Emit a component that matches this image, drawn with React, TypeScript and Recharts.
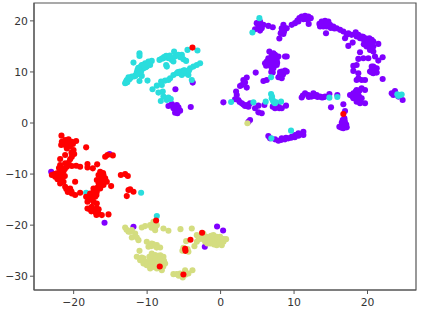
import React from "react";
import { ScatterChart, Scatter, XAxis, YAxis, ReferenceArea } from "recharts";

type P = [number, number];

const purplePoints: P[] = [
  [4.92,19.55],[5.37,19.87],[5.15,18.89],[5.6,18.56],[5.37,18.1],[4.69,18.37],[5.83,19.22],[6.5,19.02],[7.1,18.76],[5.37,19.2],
  [8.55,19.22],[8.32,18.56],[8.77,18.56],[9.0,18.56],[8.32,17.91],[8.64,17.91],[8.18,17.58],[8.55,17.45],[8.0,16.54],
  [9.68,19.22],[10.13,19.55],[10.45,20.07],[10.72,20.53],[11.04,20.85],[11.5,20.98],[11.95,20.85],[12.27,20.53],[11.27,20.33],[10.59,19.87],[11.99,19.41],[11.72,20.33],
  [13.45,19.41],[13.76,19.87],[14.22,20.0],[14.67,19.87],[14.9,19.22],[13.99,18.89],[14.44,18.89],[13.54,18.89],[15.35,18.89],[15.8,18.56],[16.26,18.24],[16.71,17.91],[14.35,17.58],[17.39,17.58],[17.84,17.26],[18.39,17.78],[18.75,17.26],[19.2,16.93],[19.66,16.6],[19.88,15.95],[20.34,15.62],[20.79,15.95],[20.25,16.6],[20.79,14.97],[21.47,15.49],[16.94,16.6],[17.98,15.75],[17.39,15.1],[19.88,14.97],[20.34,14.32],[18.98,13.86],[20.79,13.99],[21.02,13.01],[22.06,12.88],[21.47,12.22],[20.11,12.68],[18.75,12.55],[18.52,11.37],[18.07,11.18],[18.07,10.2],[18.75,9.74],[20.79,11.05],[21.25,10.72],[20.57,10.39],[21.25,9.87],[18.75,8.76],[18.52,8.43],[19.66,8.43],[22.06,8.63],[20.34,10.07],[21.02,10.07],[19.2,8.43],[19.43,16.4],[20.11,15.62],[20.57,16.28],[18.52,16.93],[18.98,16.6],[17.17,17.26],[19.43,12.68],[21.02,10.72],[20.79,9.74],[20.57,11.05],
  [14.1,19.3],[14.6,19.3],[15,18.6],[15.5,18.5],[19.4,16.9],[19.9,16.5],[20.2,16],[20.5,15.2],[20.3,15],[19.5,15.4],[19.9,15.4],[20.8,10.5],[20.6,9.9],
  [6.64,13.99],[6.96,13.34],[7.41,13.34],[7.87,13.01],[8.77,13.01],[9.0,13.01],[6.5,12.68],[7.19,12.68],[7.64,12.36],[6.05,11.7],[6.73,11.7],[7.19,11.37],[7.64,11.37],[6.96,10.72],[7.19,10.72],[4.78,9.87],[8.32,10.07],[8.77,10.26],[9.0,10.07],[8.09,9.41],[8.32,8.76],[7.87,8.96],[5.83,8.24],[6.28,8.43],[3.56,8.89],[3.1,8.43],[2.88,7.45],[3.56,6.93],[2.65,7.26],[3.33,7.91],[6.28,12.03],[6.96,12.36],[7.41,12.03],[6.5,11.37],[7.19,13.66],[7.64,13.01],[6.96,11.37],
  [7,12.9],[7.4,11.7],[6.6,12.3],[6.2,11.2],[7.7,11.8],[6.9,10],[7.1,9.9],[8.1,10],[8.5,9.5],[3.2,8],
  [0.38,4.05],[2.11,6.15],[2.2,5.49],[1.97,4.64],[2.42,4.51],[2.88,3.86],[3.33,3.34],[3.79,3.2],[4.01,3.86],[5.15,3.4],[4.69,2.88],[5.96,3.53],[5.15,2.09],[5.6,1.9],[7.19,3.34],[7.87,3.2],[8.32,2.88],[8.91,3.4],[7.41,2.88],[4.01,0.59],[3.79,0.26],
  [2.6,4.1],[3.1,3.6],[3.6,3.5],[7.6,3.1],[7.1,3.2],[8,2.9],[7.7,3.6],
  [11.04,5.0],[11.5,5.82],[11.95,5.49],[12.4,5.17],[12.63,5.82],[13.08,5.49],[13.54,5.17],[13.99,5.03],[14.22,5.17],[14.81,5.69],[15.89,5.49],[15.03,3.07],[16.71,3.66],[17.62,5.49],[18.07,5.82],[18.52,6.47],[19.2,6.8],[19.66,6.47],[18.75,5.49],[18.07,4.84],[18.75,4.51],[19.2,4.84],[19.66,3.86],[18.98,3.86],[18.52,4.18],[18.39,6.15],[18.89,6.34],
  [18.3,5.2],[18.5,4.9],[18.9,5.1],[19,4.3],[18.7,6.0],[17.9,5.3],[11.2,5.4],[12,5.1],[12.8,5.3],[13.2,5.1],[13.8,5.0],
  [16.94,2.36],[16.62,0.59],[16.48,-0.39],[16.94,-0.06],[16.17,-0.72],[16.71,-1.04],[17.17,-0.85],[16.85,0.92],[16.4,-0.9],[16.7,-0.5],[17.1,-0.3],[16.5,0.1],[16.9,0.4],
  [6.5,-2.55],[6.73,-3.0],[7.41,-3.2],[7.87,-3.46],[8.32,-3.0],[9.23,-3.0],[9.68,-2.68],[10.13,-2.35],[10.59,-2.02],[11.27,-1.7],[11.27,-2.35],[8.77,-3.2],[8.3,-3.3],[8.9,-2.9],[9.6,-2.9],[10.1,-2.8],[10.6,-2.5],
  [23.29,5.82],[23.74,6.28],[23.51,5.49],[24.19,5.17],[24.78,4.51],
  [-3.79,7.91],[-6.15,6.6],[-4.06,3.14],[-7.1,3.34],[-6.64,3.73],[-5.96,3.53],[-6.42,2.88],[-5.96,2.55],[-5.51,2.42],[-6.19,2.03],[-5.87,1.9],[-5.74,3.07],
  [-15.12,-6.08],[-23.06,-9.54],[-15.8,-19.54],[-0.48,-20.26],[0.34,-21.04],[-2.15,-24.24],[-11.86,-20.32],
];

const cyanPoints: P[] = [
  [6.87,8.96],[5.28,20.53],[4.33,17.71],[9.59,-1.5],[6.91,-3.0],[14.81,4.97],[15.89,5.1],[24.06,5.62],[24.42,5.49],[24.65,5.56],[24.19,5.3],[6.87,5.69],[6.96,4.84],[7.19,4.18],[7.41,3.86],[8.23,4.18],[6.14,4.18],[4.47,4.05],[1.43,4.12],[7,5.2],[7.1,4.5],[7.3,4.0],[7.5,4.1],
  [-12.99,7.78],[-12.77,8.43],[-12.54,8.96],[-12.09,9.09],[-11.63,9.22],[-11.04,8.24],[-11.86,11.83],[-11.04,13.66],[-11.04,13.14],[-11.32,10.39],[-10.95,10.72],[-10.73,11.37],[-10.27,11.7],[-9.82,12.03],[-9.37,12.16],[-10.5,10.72],[-10.05,11.05],[-9.59,11.37],[-11.18,9.61],[-10.73,9.22],[-9.95,8.3],[-9.27,6.6],[-8.68,7.32],[-8.1,8.11],[-7.55,8.3],[-7.1,8.43],[-8.0,7.45],[-6.87,8.76],[-6.42,9.41],[-5.96,9.74],[-5.51,10.07],[-5.06,10.26],[-4.6,10.07],[-4.15,10.72],[-3.7,11.05],[-3.24,11.37],[-2.79,11.7],[-3.92,8.43],[-5.28,9.41],[-4.38,9.41],[-8.46,5.95],[-7.87,6.15],[-7.78,5.17],[-8.14,4.32],[-7.32,4.51],[-6.78,4.71],[-8.32,12.36],[-7.78,12.68],[-7.41,13.14],[-7.1,12.68],[-6.64,12.36],[-6.33,13.99],[-6.19,13.01],[-5.74,13.34],[-5.28,13.34],[-5.06,12.48],[-4.69,12.16],[-7.41,11.37],[-7.32,11.05],[-4.51,14.32],[-3.15,14.19],[-6.42,12.03],[-12.86,8.1],[-12.4,8.56],[-11.41,9.87],[-10.41,11.18],[-4.83,9.74],
  [-12.7,8.0],[-12.9,7.9],[-12.3,8.8],[-11.8,9.1],[-10.8,10.2],[-11,10],[-10.9,11],[-10.2,10.9],[-10.6,11.3],[-9.7,11.7],[-9.9,11.4],[-5.5,9.7],[-5,9.8],[-4.6,9.7],[-4.9,10.3],[-4.3,10.3],[-5.8,10],[-7.7,12.9],[-6.9,12.8],[-6.9,13.2],[-5.5,12.9],[-5.3,12.9],[-8,12.6],[-11.1,9.9],[-11.5,9.4],[-11.2,10.8],[-7.1,5.0],
  [-10.82,-13.66],[-8.68,-18.23],[-18.3,-13.66],
];

const khakiPoints: P[] = [
  [3.65,-0.06],
  [-12.99,-20.45],[-12.54,-21.3],[-12.09,-20.98],[-11.63,-21.63],[-11.18,-22.94],[-12.09,-22.41],[-11.41,-22.41],[-10.73,-20.45],[-10.27,-20.19],[-9.59,-20.0],[-9.14,-19.34],[-8.68,-20.0],[-8.91,-20.98],[-7.78,-20.65],[-7.1,-21.11],[-10.05,-23.26],[-9.37,-23.59],[-8.68,-23.92],[-8.23,-24.37],[-9.82,-24.24],[-11.04,-25.03],[-11.41,-26.2],[-10.95,-26.86],[-10.5,-27.51],[-9.82,-27.84],[-9.14,-28.17],[-9.37,-25.55],[-8.91,-25.88],[-7.78,-26.2],[-7.55,-27.51],[-8.0,-28.82],[-8.68,-28.49],[-9.59,-28.49],[-10.27,-27.18],[-8.23,-27.18],[-5.46,-20.78],[-3.92,-20.65],[-4.69,-23.13],[-5.06,-24.44],[-4.38,-25.22],[-3.56,-24.11],[-3.24,-23.26],[-2.79,-22.28],[-2.34,-21.63],[-1.66,-22.61],[-0.98,-21.96],[-0.52,-22.28],[-0.07,-22.94],[0.39,-23.26],[0.75,-22.74],[-0.98,-23.26],[-0.52,-23.92],[0.16,-23.92],[-1.43,-23.59],[-2.1,-23.26],[-3.24,-21.96],[-6.42,-29.6],[-5.96,-29.6],[-5.51,-29.47],[-5.15,-30.26],[-4.83,-28.82],[-4.38,-29.47],[-3.83,-28.82],[-0.75,-22.61],[-0.07,-22.28],[-2.56,-22.61],[-10.05,-27.84],[-8.68,-27.51],[-10.73,-26.33],[-9.37,-27.18],
  [-10.5,-26.5],[-10.9,-26.5],[-10.3,-27.5],[-10,-27.3],[-9.6,-27],[-9.4,-27.9],[-9.1,-27.4],[-8.9,-27.1],[-8.4,-26.6],[-8.5,-26],[-8.2,-25.9],[-8,-26.8],[-8.3,-27.7],[-8.4,-28.4],[-9.1,-26.3],[-9.7,-26.2],[-9.6,-28],[-7.7,-27],[-7.8,-28.1],
  [-1.5,-23],[-1.1,-22.6],[-0.7,-23.3],[-0.4,-22.7],[-0.2,-23.4],[0.2,-22.7],[-1.3,-22.1],[-1.9,-22.3],[-2.3,-22.8],[-1.8,-23.6],[-0.9,-23.8],[0.4,-22.7],[-3,-22.8],
  [-9.2,-23.7],[-9,-24],[-9.4,-24.1],[-8.7,-24.4],[-4.9,-25],[-4.5,-24.7],[-5.2,-25],[-9.2,-20.1],[-9.4,-20.5],[-8.9,-20.4],[-12.3,-21.3],[-12.8,-20.9],[-5.7,-29.9],[-5.3,-29.9],[-4.8,-29.7],
];

const redPoints: P[] = [
  [16.71,1.77],[-3.83,14.77],
  [-21.66,-2.48],[-21.61,-3.66],[-21.16,-3.33],[-20.7,-3.2],[-20.25,-3.66],[-19.66,-3.53],[-21.7,-4.31],[-21.16,-4.31],[-20.7,-4.31],[-20.93,-4.97],[-18.3,-4.77],[-20.02,-5.29],[-19.93,-6.08],[-20.25,-6.6],[-21.16,-6.27],[-21.84,-7.06],[-20.48,-7.12],[-15.71,-6.6],[-15.4,-6.27],[-14.67,-6.34],
  [-21.84,-8.23],[-20.7,-7.77],[-21.16,-7.9],[-21.61,-8.88],[-20.93,-8.56],[-20.25,-8.43],[-19.66,-8.36],[-19.12,-8.56],[-18.12,-8.04],[-18.12,-8.69],[-17.39,-8.88],[-16.8,-8.1],[-22.29,-9.87],[-21.84,-9.54],[-22.52,-10.52],[-22.97,-10.19],[-22.06,-10.52],[-21.61,-10.85],[-21.84,-11.83],[-21.38,-11.5],[-21.16,-12.48],[-20.7,-13.13],[-20.25,-13.79],[-19.8,-14.11],[-19.12,-13.66],[-20.48,-12.81],[-19.8,-11.5],[-16.39,-9.54],[-16.62,-10.19],[-15.94,-10.19],[-16.85,-11.17],[-16.17,-11.17],[-15.49,-11.5],[-14.9,-12.35],[-15.94,-12.15],[-16.39,-12.81],[-17.3,-12.81],[-16.85,-13.46],[-17.76,-13.79],[-18.3,-14.44],[-18.12,-15.42],[-17.3,-15.42],[-16.85,-15.75],[-18.12,-16.73],[-17.3,-17.05],[-16.62,-17.71],[-16.17,-18.03],[-15.26,-17.9],[-16.85,-16.73],[-17.53,-16.4],[-13.58,-10.19],[-12.99,-10.0],[-12.63,-10.39],[-12.54,-13.13],[-11.86,-13.46],[-12.77,-14.31],[-12.31,-13.0],[-17.53,-14.44],[-17.07,-14.44],[-16.39,-11.83],[-15.71,-10.85],[-17.3,-13.46],
  [-22.1,-9.9],[-22.4,-10.1],[-22,-10.2],[-22.2,-11],[-21.9,-11.1],[-22.6,-10],[-21.7,-10],[-21.4,-9.5],[-21.2,-9],[-21.6,-9.5],[-22,-8.8],[-21.2,-10.4],
  [-21.3,-3.8],[-20.9,-3.7],[-20.5,-3.8],[-21.5,-4],[-20.5,-4.6],[-20.1,-4.1],[-20.3,-5.8],
  [-17.6,-15],[-17.9,-16.8],[-17.6,-17.3],[-17,-17.5],[-17,-16.9],[-16.9,-18],[-16.6,-16.9],[-17.9,-14.6],[-18,-14.9],[-16.6,-11.8],[-16.5,-12.2],[-16.8,-12.7],[-16.2,-10.6],[-15.9,-10.9],[-16,-9.8],[-16.9,-14.1],[-17.2,-13.1],[-20.3,-13.4],[-20.8,-13.5],[-21,-12.9],
  [-8.78,-19.08],[-2.52,-21.5],[-4.1,-22.87],[-4.83,-24.64],[-4.78,-25.03],[-8.28,-28.1],[-5.06,-29.67],
];

const xTicks = [-20, -10, 0, 10, 20];
const yTicks = [-30, -20, -10, 0, 10, 20];
const xDomain: P = [-25.4, 26.6];
const yDomain: P = [-32.7, 23.5];

const toRows = (pts: P[]) => pts.map(([x, y]) => ({ x, y }));
const fmt = (v: number) => String(v).replace("-", "\u2212");

const dot = (fill: string) => (props: any) => (
  <circle cx={props.cx} cy={props.cy} r={3.05} fill={fill} />
);

const series: [P[], string][] = [
  [purplePoints, "#8000ff"],
  [cyanPoints, "#2adddd"],
  [khakiPoints, "#d4dd80"],
  [redPoints, "#ff0000"],
];

const tickStyle = { fontFamily: "DejaVu Sans", fontSize: 10.8, fill: "#333" };

export default function App() {
  return (
    <div style={{ position: "absolute", left: 0, top: 0, width: 423, height: 313, background: "#fff" }}>
      <ScatterChart width={423} height={313} margin={{ top: 3, right: 7, bottom: 0, left: 0 }}>
        <XAxis
          type="number"
          dataKey="x"
          domain={xDomain}
          ticks={xTicks}
          height={23}
          interval={0}
          allowDataOverflow
          tickFormatter={fmt}
          tick={tickStyle}
          tickSize={4}
          stroke="#555"
          tickMargin={4}
        />
        <YAxis
          type="number"
          dataKey="y"
          domain={yDomain}
          ticks={yTicks}
          width={34}
          interval={0}
          allowDataOverflow
          tickFormatter={fmt}
          tick={tickStyle}
          tickSize={4}
          stroke="#555"
          tickMargin={2}
        />
        {series.map(([pts, color], i) => (
          <Scatter key={i} data={toRows(pts)} fill={color} shape={dot(color)} isAnimationActive={false} />
        ))}
        <ReferenceArea
          x1={xDomain[0]}
          x2={xDomain[1]}
          y1={yDomain[0]}
          y2={yDomain[1]}
          fill="none"
          stroke="#555"
          strokeWidth={1.2}
          ifOverflow="visible"
        />
      </ScatterChart>
    </div>
  );
}
